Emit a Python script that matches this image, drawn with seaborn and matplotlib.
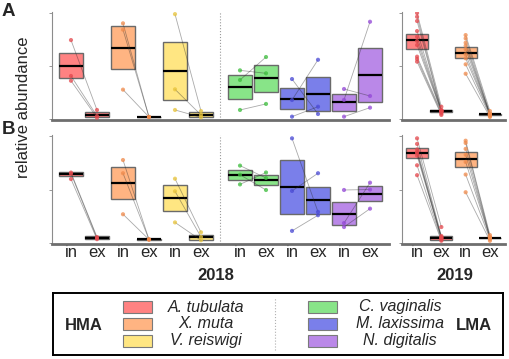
import numpy as np
import pandas as pd
import matplotlib
matplotlib.use("Agg")
import matplotlib.pyplot as plt
import seaborn as sns
from matplotlib.patches import Rectangle

# ---------------- data ----------------
species = ["A. tubulata", "X. muta", "V. reiswigi", "C. vaginalis", "M. laxissima", "N. digitalis"]
conditions = ["in", "ex"]
box_colors = ["#FF8282", "#FFB482", "#FFE682", "#88E488", "#7A7FEA", "#BA88E8"]
point_colors = ["#E5484D", "#F08A4B", "#E8C43A", "#3DBE3D", "#4A4AD6", "#9448D8"]

# 2018, panel A: paired samples (in -> ex)
A18_in = [[0.745, 0.406, 0.361], [0.903, 0.843, 0.277], [0.99, 0.28, 0.085],
          [0.459, 0.368, 0.085], [0.377, 0.179, 0.022], [0.283, 0.18, 0.022]]
A18_ex = [[0.085, 0.028, 0.012], [0.019, 0.019, 0.019], [0.075, 0.038, 0.016],
          [0.431, 0.585, 0.142], [0.047, 0.559, 0.116], [0.217, 0.918, 0.107]]
# 2018, panel B
B18_in = [[0.66, 0.65, 0.60], [0.777, 0.654, 0.272], [0.603, 0.486, 0.196],
          [0.725, 0.64, 0.55], [0.979, 0.489, 0.117], [0.498, 0.19, 0.153]]
B18_ex = [[0.06, 0.05, 0.04], [0.037, 0.037, 0.037], [0.104, 0.06, 0.03],
          [0.61, 0.498, 0.661], [0.294, 0.654, 0.263], [0.502, 0.566, 0.324]]
# 2019 (A. tubulata, X. muta)
A19_in = [[1.0, 0.965, 0.925, 0.830, 0.776, 0.736, 0.698, 0.588, 0.566, 0.541],
          [0.792, 0.761, 0.720, 0.692, 0.657, 0.610, 0.573, 0.516, 0.427]]
A19_ex = [[0.116, 0.085, 0.080, 0.078, 0.075, 0.072, 0.068, 0.063, 0.050, 0.038],
          [0.075, 0.050, 0.048, 0.046, 0.044, 0.042, 0.040, 0.030, 0.019]]
B19_in = [[0.979, 0.927, 0.875, 0.850, 0.841, 0.819, 0.728, 0.636],
          [0.957, 0.936, 0.881, 0.826, 0.759, 0.642, 0.477]]
B19_ex = [[0.153, 0.070, 0.060, 0.055, 0.050, 0.045, 0.035, 0.025],
          [0.078, 0.060, 0.055, 0.052, 0.050, 0.040, 0.025]]

# box statistics (q1, median, q3) per species, in / ex
A18_box_in = [(0.384, 0.503, 0.625), (0.472, 0.673, 0.874), (0.179, 0.453, 0.726),
              (0.189, 0.302, 0.418), (0.091, 0.189, 0.292), (0.078, 0.163, 0.236)]
A18_box_ex = [(0.019, 0.041, 0.066), (0.017, 0.019, 0.021), (0.016, 0.038, 0.063),
              (0.258, 0.384, 0.512), (0.078, 0.239, 0.399), (0.160, 0.412, 0.667)]
B18_box_in = [(0.624, 0.645, 0.663), (0.413, 0.566, 0.716), (0.306, 0.425, 0.547),
              (0.587, 0.642, 0.688), (0.278, 0.526, 0.777), (0.168, 0.278, 0.388)]
B18_box_ex = [(0.037, 0.055, 0.067), (0.035, 0.037, 0.039), (0.034, 0.058, 0.076),
              (0.541, 0.590, 0.639), (0.278, 0.401, 0.526), (0.394, 0.465, 0.535)]
A19_box_in = [(0.663, 0.742, 0.805), (0.579, 0.626, 0.676)]
A19_box_ex = [(0.063, 0.075, 0.085), (0.042, 0.044, 0.046)]
B19_box_in = [(0.795, 0.841, 0.887), (0.713, 0.783, 0.850)]
B19_box_ex = [(0.034, 0.052, 0.070), (0.050, 0.052, 0.054)]

# ---------------- style ----------------
sns.set_theme(style="white")
plt.rcParams["font.family"] = ["Liberation Sans", "DejaVu Sans"]

fig = plt.figure(figsize=(5.10, 3.59), dpi=100)
H = 359.0
W = 510.0

def fax(x0, y0, x1, y1):
    return fig.add_axes([x0 / W, 1 - y1 / H, (x1 - x0) / W, (y1 - y0) / H])

axA18 = fax(52, 12, 389, 119.5)
axB18 = fax(52, 135, 389, 244)
axA19 = fax(402, 12, 505, 119.5)
axB19 = fax(402, 135, 505, 244)

pos18_in = [0, 2, 4, 6.5, 8.5, 10.5]
pos19_in = [0, 2]


def draw_panel(ax, vin, vex, box_in, box_ex, sp_idx, pin, width, show_labels):
    rows = []
    for k, s in enumerate(sp_idx):
        for p, (vi, ve) in enumerate(zip(vin[k], vex[k])):
            pid = f"{k}-{p}"
            rows.append(dict(pair=pid, species=species[s], pos=pin[k], value=vi))
            rows.append(dict(pair=pid, species=species[s], pos=pin[k] + 1, value=ve))
    df = pd.DataFrame(rows)

    stats, positions, fcs = [], [], []
    for k, s in enumerate(sp_idx):
        for j, b in enumerate((box_in[k], box_ex[k])):
            q1, med, q3 = b
            stats.append(dict(q1=q1, med=med, q3=q3, whislo=q1, whishi=q3, fliers=[]))
            positions.append(pin[k] + j)
            fcs.append(box_colors[s])
    bp = ax.bxp(stats, positions=positions, widths=width, patch_artist=True,
                showfliers=False, showcaps=False, manage_ticks=False,
                boxprops=dict(edgecolor="#6a6a6a", linewidth=1.0),
                medianprops=dict(color="black", linewidth=1.6),
                whiskerprops=dict(linewidth=0))
    for patch, c in zip(bp["boxes"], fcs):
        patch.set_facecolor(c)
        patch.set_zorder(2)
    for m in bp["medians"]:
        m.set_zorder(2.5)

    sns.lineplot(data=df, x="pos", y="value", units="pair", estimator=None,
                 color="#2a2a2a", alpha=0.4, linewidth=0.6, ax=ax, legend=False,
                 zorder=3)
    pal = {species[s]: point_colors[s] for s in sp_idx}
    sns.scatterplot(data=df, x="pos", y="value", hue="species", palette=pal,
                    s=9, alpha=0.75, edgecolor="none", ax=ax, legend=False, zorder=4)

    ax.set_ylim(-0.005, 1.01)
    ax.set_yticks([0, 0.5, 1.0])
    ax.set_yticklabels([])
    ax.tick_params(axis="y", length=2, width=0.6, color="#888888", left=True)
    ticks = []
    for p in pin:
        ticks += [p, p + 1]
    ax.set_xticks(ticks)
    if show_labels:
        ax.set_xticklabels(conditions * len(pin), fontsize=12)
    else:
        ax.set_xticklabels([])
    ax.tick_params(axis="x", length=0, pad=1)
    ax.set_xlabel("")
    ax.set_ylabel("")
    for sp in ("top", "right"):
        ax.spines[sp].set_visible(False)
    ax.spines["left"].set_color("#8c8c8c")
    ax.spines["left"].set_linewidth(0.8)
    ax.spines["bottom"].set_color("#6e6e6e")
    ax.spines["bottom"].set_linewidth(2.0)


draw_panel(axA18, A18_in, A18_ex, A18_box_in, A18_box_ex, range(6), pos18_in, 0.92, False)
draw_panel(axB18, B18_in, B18_ex, B18_box_in, B18_box_ex, range(6), pos18_in, 0.92, True)
draw_panel(axA19, A19_in, A19_ex, A19_box_in, A19_box_ex, range(2), pos19_in, 0.90, False)
draw_panel(axB19, B19_in, B19_ex, B19_box_in, B19_box_ex, range(2), pos19_in, 0.90, True)

for ax in (axA18, axB18):
    ax.set_xlim(-0.73, 12.23)
    ax.axvline(5.75, color="#9a9a9a", linestyle=":", linewidth=0.8, zorder=1)
for ax in (axA19, axB19):
    ax.set_xlim(-0.62, 3.62)

# texts
fig.text(8.5 / W, 1 - 12 / H, "A", fontsize=13.5, fontweight="bold", ha="center", va="center")
fig.text(8.5 / W, 1 - 129 / H, "B", fontsize=13.5, fontweight="bold", ha="center", va="center")
fig.text(24 / W, 1 - 107 / H, "relative abundance", fontsize=12, rotation=90,
         ha="center", va="center")
fig.text(216 / W, 1 - 276 / H, "2018", fontsize=12, fontweight="bold", ha="center", va="center")
fig.text(455 / W, 1 - 276 / H, "2019", fontsize=12, fontweight="bold", ha="center", va="center")

# legend panel
lg = fax(53, 293, 503, 355)
lg.set_xlim(0, 450)
lg.set_ylim(0, 62)
lg.set_xticks([])
lg.set_yticks([])
for sp in lg.spines.values():
    sp.set_visible(True)
    sp.set_color("black")
    sp.set_linewidth(1.4)
row_y = [48, 31, 14]
for i in range(3):
    lg.add_patch(Rectangle((70, row_y[i] - 6), 29, 12, facecolor=box_colors[i],
                           edgecolor="#7a7a7a", linewidth=0.8))
    lg.text(153, row_y[i], species[i], fontsize=11.5, style="italic", ha="center", va="center")
    lg.add_patch(Rectangle((255, row_y[i] - 6), 29, 12, facecolor=box_colors[i + 3],
                           edgecolor="#7a7a7a", linewidth=0.8))
    lg.text(347, row_y[i], species[i + 3], fontsize=11.5, style="italic", ha="center", va="center")
lg.text(31, 30, "HMA", fontsize=12, fontweight="bold", ha="center", va="center")
lg.text(421, 30, "LMA", fontsize=12, fontweight="bold", ha="center", va="center")
lg.plot([222, 222], [5, 57], color="#b0b0b0", linestyle=":", linewidth=0.8)

fig.savefig("out.png", dpi=100)
